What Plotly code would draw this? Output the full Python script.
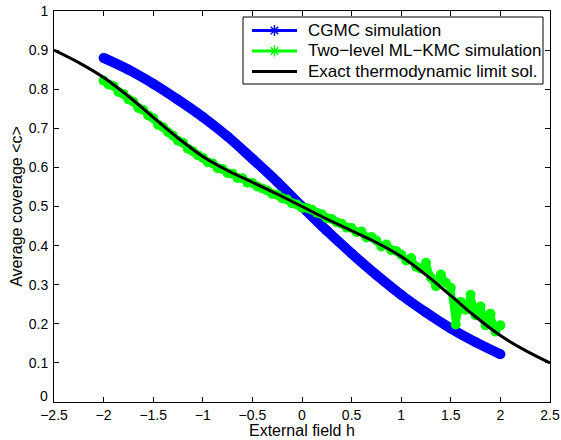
import plotly.graph_objects as go

# External field values and average coverage, CGMC simulation
h_cgmc = [-2.0, -1.75, -1.5, -1.25, -1.0, -0.75, -0.5, -0.25, 0.0,
          0.25, 0.5, 0.75, 1.0, 1.25, 1.5, 1.75, 2.0]
c_cgmc = [0.880, 0.850, 0.814, 0.773, 0.729, 0.679, 0.622, 0.563, 0.500,
          0.438, 0.380, 0.325, 0.274, 0.229, 0.188, 0.153, 0.122]

# Two-level ML-KMC simulation
h_mlkmc = [-2.00, -1.95, -1.90, -1.85, -1.80, -1.75, -1.70, -1.65, -1.60, -1.55,
           -1.50, -1.45, -1.40, -1.35, -1.30, -1.25, -1.20, -1.15, -1.10, -1.05,
           -1.00, -0.95, -0.90, -0.85, -0.80, -0.75, -0.70, -0.65, -0.60, -0.55,
           -0.50, -0.45, -0.40, -0.35, -0.30, -0.25, -0.20, -0.15, -0.10, -0.05,
           0.00, 0.05, 0.10, 0.15, 0.20, 0.25, 0.30, 0.35, 0.40, 0.45,
           0.50, 0.55, 0.60, 0.65, 0.70, 0.75, 0.80, 0.85, 0.90, 0.95,
           1.00, 1.05, 1.10, 1.15, 1.20, 1.25, 1.30, 1.35, 1.40, 1.45,
           1.50, 1.55, 1.60, 1.65, 1.70, 1.75, 1.80, 1.85, 1.90, 1.95, 2.00]
c_mlkmc = [0.822, 0.812, 0.808, 0.793, 0.788, 0.774, 0.768, 0.752, 0.747, 0.733,
           0.726, 0.709, 0.703, 0.690, 0.681, 0.668, 0.663, 0.648, 0.641, 0.631,
           0.625, 0.613, 0.610, 0.598, 0.596, 0.585, 0.584, 0.573, 0.572, 0.561,
           0.560, 0.551, 0.546, 0.541, 0.532, 0.530, 0.521, 0.518, 0.508, 0.505,
           0.497, 0.496, 0.492, 0.484, 0.480, 0.470, 0.468, 0.460, 0.456, 0.446,
           0.445, 0.434, 0.436, 0.421, 0.422, 0.413, 0.398, 0.403, 0.388, 0.386,
           0.377, 0.362, 0.368, 0.346, 0.341, 0.356, 0.318, 0.296, 0.326, 0.305,
           0.292, 0.198, 0.256, 0.236, 0.274, 0.222, 0.244, 0.196, 0.226, 0.180, 0.196]

# Exact thermodynamic limit solution
h_exact = [-2.5, -2.25, -2.0, -1.75, -1.5, -1.25, -1.0, -0.75, -0.5, -0.25, 0.0,
           0.25, 0.5, 0.75, 1.0, 1.25, 1.5, 1.75, 2.0, 2.25, 2.5]
c_exact = [0.900, 0.868, 0.830, 0.782, 0.728, 0.675, 0.628, 0.592, 0.562, 0.532, 0.500,
           0.468, 0.438, 0.408, 0.372, 0.325, 0.272, 0.218, 0.170, 0.132, 0.100]

x_ticks = [-2.5, -2, -1.5, -1, -0.5, 0, 0.5, 1, 1.5, 2, 2.5]
x_labels = ["\u22122.5", "\u22122", "\u22121.5", "\u22121", "\u22120.5", "0",
            "0.5", "1", "1.5", "2", "2.5"]
y_ticks = [0, 0.1, 0.2, 0.3, 0.4, 0.5, 0.6, 0.7, 0.8, 0.9, 1]
y_labels = ["0", "0.1", "0.2", "0.3", "0.4", "0.5", "0.6", "0.7", "0.8", "0.9", "1"]

names = ["CGMC simulation", "Two\u2212level ML\u2212KMC simulation",
         "Exact thermodynamic limit sol."]
x_title = "External field h"
y_title = "Average coverage <c>"

BLUE, GREEN, BLACK = "#0000ff", "#00ff00", "#000000"
FONT = "Liberation Sans, Arial, sans-serif"
W, H = 561, 440
ML, MR, MT, MB = 54, 11, 11, 38

fig = go.Figure()

fig.add_trace(go.Scatter(
    x=h_cgmc, y=c_cgmc, mode="lines+markers", line=dict(color=BLUE, width=10, shape="spline"),
    marker=dict(color=BLUE, size=10, symbol="circle"), showlegend=False))
fig.add_trace(go.Scatter(
    x=h_mlkmc, y=c_mlkmc, mode="lines+markers", line=dict(color=GREEN, width=7),
    marker=dict(color=GREEN, size=10, symbol="circle"), showlegend=False))
fig.add_trace(go.Scatter(
    x=h_exact, y=c_exact, mode="lines", line=dict(color=BLACK, width=3, shape="spline"),
    showlegend=False))

# ---- boxed legend in the upper right, laid out in screen pixels ----
def px(x):
    return (x - ML) / (W - ML - MR)

def py(y):
    return (H - MB - y) / (H - MT - MB)

box = (243, 17, 543, 84)          # left, top, right, bottom
rows = [30.5, 51, 71.5]
key_x0, key_x1, text_x = 252, 297, 306
legend_colors = [BLUE, GREEN, BLACK]
legend_star = [True, True, False]

shapes = [dict(type="rect", xref="paper", yref="paper", layer="below",
               x0=px(box[0]), x1=px(box[2]), y0=py(box[3]), y1=py(box[1]),
               line=dict(color="black", width=1), fillcolor="rgba(0,0,0,0)")]
annotations = []
for name, col, ry in zip(names, legend_colors, rows):
    shapes.append(dict(type="line", xref="paper", yref="paper", layer="below",
                       x0=px(key_x0), x1=px(key_x1), y0=py(ry), y1=py(ry),
                       line=dict(color=col, width=3)))
    annotations.append(dict(text=name, xref="paper", yref="paper", x=px(text_x), y=py(ry),
                            xanchor="left", yanchor="middle", showarrow=False,
                            font=dict(family=FONT, size=17, color="black")))

# x-axis title, centred below the tick labels
annotations.append(dict(text=x_title, xref="paper", yref="paper", x=0.5, y=py(421),
                        xanchor="center", yanchor="top", showarrow=False, borderpad=0,
                        font=dict(family=FONT, size=16, color="black")))

# the "0" label of the y axis sits a little above the corner so it clears "-2.5"
annotations.append(dict(text=y_labels[0], xref="paper", yref="paper", x=px(48.5), y=py(395.5),
                        xanchor="right", yanchor="middle", showarrow=False, borderpad=0,
                        font=dict(family=FONT, size=14, color="black")))
y_ticktext = [""] + y_labels[1:]

star_x = [(key_x0 + key_x1) / 2 for s in legend_star if s]
star_y = [ry for ry, s in zip(rows, legend_star) if s]
star_c = [c for c, s in zip(legend_colors, legend_star) if s]
fig.add_trace(go.Scatter(
    x=star_x, y=star_y, xaxis="x2", yaxis="y2", mode="markers", showlegend=False,
    hoverinfo="skip",
    marker=dict(symbol="asterisk-open", size=9, color=star_c, line=dict(color=star_c, width=1.5))))

axis_common = dict(
    showline=True, linecolor="black", linewidth=1, mirror="ticks",
    ticks="inside", ticklen=5, tickcolor="black", tickwidth=1,
    showgrid=False, zeroline=False, automargin=False,
    tickfont=dict(family=FONT, size=14, color="black"),
)

fig.update_xaxes(range=[-2.5, 2.5], tickvals=x_ticks, ticktext=x_labels,
                 ticklabelstandoff=0, **axis_common)
fig.update_yaxes(range=[0, 1], tickvals=y_ticks, ticktext=y_ticktext,
                 ticklabelstandoff=2,
                 title=dict(text=y_title, standoff=2,
                            font=dict(family=FONT, size=16, color="black")),
                 **axis_common)

fig.update_layout(
    width=W, height=H,
    margin=dict(l=ML, r=MR, t=MT, b=MB),
    paper_bgcolor="white", plot_bgcolor="white",
    font=dict(family=FONT, size=14, color="black"),
    showlegend=False,
    shapes=shapes, annotations=annotations,
    xaxis2=dict(overlaying="x", range=[ML, W - MR], visible=False, fixedrange=True),
    yaxis2=dict(overlaying="y", range=[H - MB, MT], visible=False, fixedrange=True),
)

fig.write_html("out.html")
